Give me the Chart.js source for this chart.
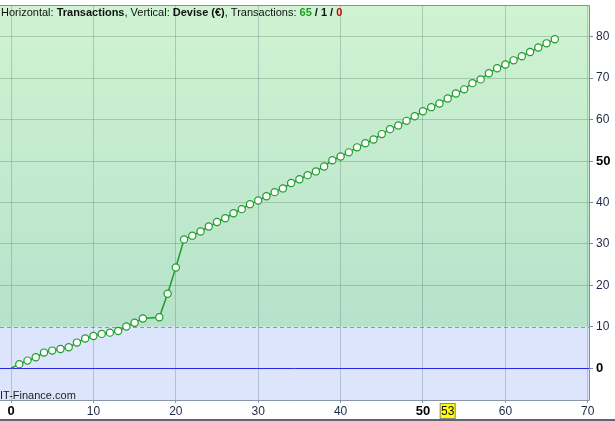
<!DOCTYPE html>
<html>
<head>
<meta charset="utf-8">
<script src="https://cdn.jsdelivr.net/npm/chart.js@4.4.1/dist/chart.umd.min.js"></script>
<style>
  body { margin: 0; background: #fff; }
  #wrap { position: relative; width: 615px; height: 421px; }
</style>
</head>
<body>
<div id="wrap"><canvas id="graph" width="615" height="421"></canvas></div>
<script>
// transactions (x) and balance in euros (y); transaction 17 is absent
const transactions = [0, 1, 2, 3, 4, 5, 6, 7, 8, 9, 10, 11, 12, 13, 14, 15, 16,
    18, 19, 20, 21, 22, 23, 24, 25, 26, 27, 28, 29,
    30, 31, 32, 33, 34, 35, 36, 37, 38, 39, 40, 41, 42, 43, 44, 45, 46, 47, 48,
    49, 50, 51, 52, 53, 54, 55, 56, 57, 58, 59, 60, 61, 62, 63, 64, 65, 66];
const devise = [0, 1.0, 1.85, 2.66, 3.79, 4.27, 4.67, 5.07, 6.2, 7.17, 7.8, 8.3, 8.6, 9.0, 10.07, 11.0, 12.0,
    12.3, 18.0, 24.3, 31.1, 32.0, 33.0, 34.2, 35.3, 36.2, 37.4, 38.4, 39.6,
    40.5, 41.5, 42.5, 43.4, 44.7, 45.6, 46.6, 47.5, 48.7, 50.2, 51.1, 52.1, 53.3, 54.3, 55.2, 56.5, 57.7, 58.6, 59.7,
    60.8, 62.0, 63.0, 63.9, 65.1, 66.3, 67.3, 68.8, 69.7, 71.2, 72.4, 73.3, 74.3, 75.3, 76.3, 77.4, 78.4, 79.4];
const xTicks = [0, 10, 20, 30, 40, 50, 60, 70];
const yTicks = [0, 10, 20, 30, 40, 50, 60, 70, 80];
const boldTicks = [0, 50];
const markedX = 53;
const thresholdY = 10;

const FONT = '"Liberation Sans", Arial, sans-serif';

const points = transactions.map((x, i) => ({ x: x, y: devise[i] }));

function isBold(c) {
    return !!(c && c.tick && boldTicks.includes(c.tick.value));
}
function tickFont(c) {
    const b = isBold(c);
    return { family: FONT, size: b ? 13 : 12, weight: b ? 'bold' : 'normal' };
}
function tickColor(c) {
    return isBold(c) ? '#000' : '#1c2848';
}

const decor = {
    id: 'decor',
    beforeDraw(chart) {
        const { ctx, chartArea: a, scales } = chart;
        const y10 = scales.y.getPixelForValue(thresholdY);
        ctx.save();
        const g = ctx.createLinearGradient(0, a.top, 0, y10);
        g.addColorStop(0, '#d0f3d2');
        g.addColorStop(1, '#b6e2cb');
        ctx.fillStyle = g;
        ctx.fillRect(a.left, a.top, a.right - a.left, y10 - a.top);
        ctx.fillStyle = '#dce5fc';
        ctx.fillRect(a.left, y10, a.right - a.left, a.bottom - y10);
        ctx.restore();
    },
    beforeDatasetsDraw(chart) {
        const { ctx, chartArea: a, scales } = chart;
        const y10 = Math.round(scales.y.getPixelForValue(thresholdY)) + 0.5;
        const y0 = Math.round(scales.y.getPixelForValue(0)) + 0.5;
        ctx.save();
        ctx.lineWidth = 1;
        ctx.strokeStyle = '#5cbf5c';
        ctx.setLineDash([4, 3]);
        ctx.beginPath();
        ctx.moveTo(a.left, y10);
        ctx.lineTo(a.right, y10);
        ctx.stroke();
        ctx.setLineDash([]);
        ctx.strokeStyle = '#2a2ae6';
        ctx.beginPath();
        ctx.moveTo(a.left, y0);
        ctx.lineTo(a.right, y0);
        ctx.stroke();
        ctx.restore();
    },
    afterDraw(chart) {
        const { ctx, chartArea: a, scales } = chart;
        ctx.save();
        // frame
        ctx.strokeStyle = '#6e9e86';
        ctx.lineWidth = 1;
        ctx.beginPath();
        ctx.moveTo(a.left, a.top + 0.5);
        ctx.lineTo(a.right + 0.5, a.top + 0.5);
        ctx.lineTo(a.right + 0.5, a.bottom);
        ctx.stroke();
        ctx.strokeStyle = '#8a96a8';
        ctx.beginPath();
        ctx.moveTo(a.left, a.bottom + 0.5);
        ctx.lineTo(a.right + 0.5, a.bottom + 0.5);
        ctx.stroke();

        // header
        const parts = [
            ['Horizontal: ', '#111', false],
            ['Transactions', '#111', true],
            [', Vertical: ', '#111', false],
            ['Devise (€)', '#111', true],
            [', Transactions: ', '#111', false],
            ['65', '#1f9a1f', true],
            [' / ', '#111', true],
            ['1', '#111', true],
            [' / ', '#111', true],
            ['0', '#cc0000', true]
        ];
        ctx.textBaseline = 'middle';
        let x = 1;
        parts.forEach(([t, c, b]) => {
            ctx.font = (b ? 'bold ' : '') + '11px ' + FONT;
            ctx.fillStyle = c;
            ctx.fillText(t, x, 13);
            x += ctx.measureText(t).width;
        });

        // watermark
        ctx.font = '11px ' + FONT;
        ctx.fillStyle = '#222';
        ctx.textBaseline = 'alphabetic';
        ctx.fillText('IT-Finance.com', 0, 399);

        // marked transaction on the x axis
        const mx = scales.x.getPixelForValue(markedX);
        ctx.fillStyle = '#ffff00';
        ctx.fillRect(mx - 8, 403.5, 16, 15.5);
        ctx.strokeStyle = '#8a8a8a';
        ctx.strokeRect(mx - 7.5, 403.5, 15, 15);
        ctx.font = '12px ' + FONT;
        ctx.fillStyle = '#111';
        ctx.textAlign = 'center';
        ctx.textBaseline = 'middle';
        ctx.fillText(String(markedX), mx, 411.5);

        // bottom rule
        ctx.fillStyle = '#5f6670';
        ctx.fillRect(0, 419, 615, 2);
        ctx.restore();
    }
};

new Chart(document.getElementById('graph'), {
    type: 'line',
    data: {
        datasets: [{
            data: points,
            borderColor: '#1e9e2a',
            borderWidth: 1.5,
            backgroundColor: '#ffffff',
            pointBackgroundColor: '#ffffff',
            pointBorderColor: '#1e9e2a',
            pointBorderWidth: 1.2,
            pointRadius: ctx => ctx.dataIndex === 0 ? 0 : 3.6,
            tension: 0,
            fill: false
        }]
    },
    options: {
        responsive: false,
        animation: false,
        events: [],
        layout: { autoPadding: false, padding: { top: 5, left: 0, right: 0, bottom: 0 } },
        plugins: { legend: { display: false }, tooltip: { enabled: false } },
        scales: {
            x: {
                type: 'linear',
                position: 'bottom',
                min: -1.34,
                max: 70.15,
                afterFit: s => { s.height = 21; s.paddingLeft = 0; s.paddingRight = 0; },
                afterBuildTicks: s => { s.ticks = xTicks.map(v => ({ value: v })); },
                border: { display: false },
                grid: {
                    color: 'rgba(70,100,110,0.28)',
                    tickColor: '#8a96a8',
                    tickLength: 3
                },
                ticks: {
                    includeBounds: false,
                    padding: 1,
                    maxRotation: 0,
                    font: tickFont,
                    color: tickColor
                }
            },
            y: {
                type: 'linear',
                position: 'right',
                min: -7.65,
                max: 87.65,
                afterFit: s => { s.width = 26; s.paddingTop = 0; s.paddingBottom = 0; },
                afterBuildTicks: s => { s.ticks = yTicks.map(v => ({ value: v })); },
                border: { display: false },
                grid: {
                    color: c => (c.tick && (c.tick.value === 0 || c.tick.value === thresholdY)) ? 'rgba(0,0,0,0)' : 'rgba(60,110,80,0.28)',
                    tickColor: '#7d8a90',
                    tickLength: 4
                },
                ticks: {
                    includeBounds: false,
                    padding: 3,
                    font: tickFont,
                    color: tickColor
                }
            }
        }
    },
    plugins: [decor]
});
</script>
</body>
</html>
